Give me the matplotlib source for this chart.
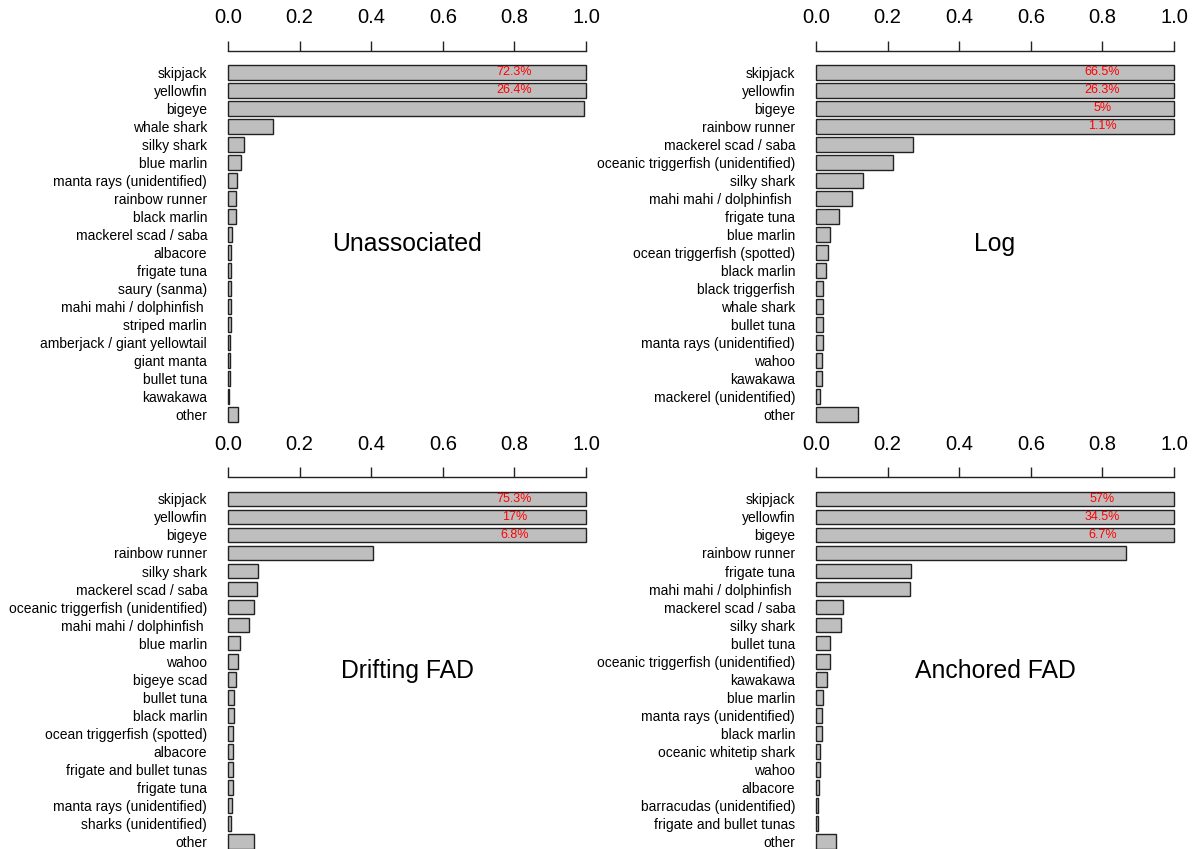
import matplotlib.pyplot as plt
import numpy as np

plt.rcParams['font.family'] = ['Liberation Sans', 'DejaVu Sans']

# share of catch per species, scaled so the big tunas hit 1.0
unassoc_names = ["skipjack", "yellowfin", "bigeye", "whale shark", "silky shark",
                 "blue marlin", "manta rays (unidentified)", "rainbow runner",
                 "black marlin", "mackerel scad / saba", "albacore", "frigate tuna",
                 "saury (sanma)", "mahi mahi / dolphinfish ", "striped marlin",
                 "amberjack / giant yellowtail", "giant manta", "bullet tuna",
                 "kawakawa", "other"]
unassoc_vals = [1.0, 1.0, 0.994, 0.125, 0.045, 0.037, 0.026, 0.0235, 0.022, 0.011,
                0.0095, 0.0095, 0.0095, 0.0085, 0.0085, 0.005, 0.005, 0.005, 0.004, 0.029]
unassoc_pct = ["72.3%", "26.4%"]

log_names = ["skipjack", "yellowfin", "bigeye", "rainbow runner", "mackerel scad / saba",
             "oceanic triggerfish (unidentified)", "silky shark", "mahi mahi / dolphinfish ",
             "frigate tuna", "blue marlin", "ocean triggerfish (spotted)", "black marlin",
             "black triggerfish", "whale shark", "bullet tuna", "manta rays (unidentified)",
             "wahoo", "kawakawa", "mackerel (unidentified)", "other"]
log_vals = [1.0, 1.0, 1.0, 1.0, 0.272, 0.216, 0.132, 0.101, 0.063, 0.038, 0.033, 0.029,
            0.020, 0.020, 0.020, 0.019, 0.018, 0.016, 0.012, 0.116]
log_pct = ["66.5%", "26.3%", "5%", "1.1%"]

dfad_names = ["skipjack", "yellowfin", "bigeye", "rainbow runner", "silky shark",
              "mackerel scad / saba", "oceanic triggerfish (unidentified)",
              "mahi mahi / dolphinfish ", "blue marlin", "wahoo", "bigeye scad",
              "bullet tuna", "black marlin", "ocean triggerfish (spotted)", "albacore",
              "frigate and bullet tunas", "frigate tuna", "manta rays (unidentified)",
              "sharks (unidentified)", "other"]
dfad_vals = [1.0, 1.0, 1.0, 0.404, 0.085, 0.082, 0.072, 0.060, 0.034, 0.028, 0.0235,
             0.018, 0.018, 0.015, 0.014, 0.014, 0.013, 0.012, 0.0096, 0.074]
dfad_pct = ["75.3%", "17%", "6.8%"]

afad_names = ["skipjack", "yellowfin", "bigeye", "rainbow runner", "frigate tuna",
              "mahi mahi / dolphinfish ", "mackerel scad / saba", "silky shark",
              "bullet tuna", "oceanic triggerfish (unidentified)", "kawakawa",
              "blue marlin", "manta rays (unidentified)", "black marlin",
              "oceanic whitetip shark", "wahoo", "albacore", "barracudas (unidentified)",
              "frigate and bullet tunas", "other"]
afad_vals = [1.0, 1.0, 1.0, 0.866, 0.266, 0.263, 0.075, 0.069, 0.039, 0.039, 0.031,
             0.019, 0.018, 0.016, 0.011, 0.010, 0.009, 0.006, 0.005, 0.056]
afad_pct = ["57%", "34.5%", "6.7%"]

panels = [
    ("Unassociated", unassoc_names, unassoc_vals, unassoc_pct),
    ("Log", log_names, log_vals, log_pct),
    ("Drifting FAD", dfad_names, dfad_vals, dfad_pct),
    ("Anchored FAD", afad_names, afad_vals, afad_pct),
]

fig = plt.figure(figsize=(11.95, 8.49), dpi=100)
W, H = 1195, 849
lefts = [228, 816, 228, 816]
tops = [50.7, 50.7, 477.3, 477.3]
ax_w = 358
ax_h = 372.5

for (title, names, vals, pct), lx, ty in zip(panels, lefts, tops):
    ax = fig.add_axes([lx / W, 1 - (ty + ax_h) / H, ax_w / W, ax_h / H])
    y = np.arange(len(names))
    ax.barh(y, vals, height=0.82, color="#bebebe", edgecolor="#222222",
            linewidth=1.0, clip_on=False)
    ax.set_xlim(0, 1)
    ax.set_ylim(19.47, -1.2)

    ax.set_yticks(y)
    ax.set_yticklabels(names, fontsize=10)
    ax.tick_params(axis="y", length=0, pad=15)

    ax.xaxis.tick_top()
    ax.set_xticks([0, 0.2, 0.4, 0.6, 0.8, 1.0])
    ax.set_xticklabels(["0.0", "0.2", "0.4", "0.6", "0.8", "1.0"], fontsize=14.5)
    ax.tick_params(axis="x", direction="out", length=7.3, width=1.0, pad=9.5,
                   color="#222222")

    for s in ["left", "right", "bottom"]:
        ax.spines[s].set_visible(False)
    ax.spines["top"].set_linewidth(1.0)
    ax.spines["top"].set_color("#222222")
    ax.patch.set_visible(False)

    for i, p in enumerate(pct):
        ax.text(0.8, i, p, color="red", fontsize=9, ha="center", va="center")

    ax.text(0.5, 9.55, title, fontsize=17.8, ha="center", va="center")

fig.savefig("out.png", dpi=100)
